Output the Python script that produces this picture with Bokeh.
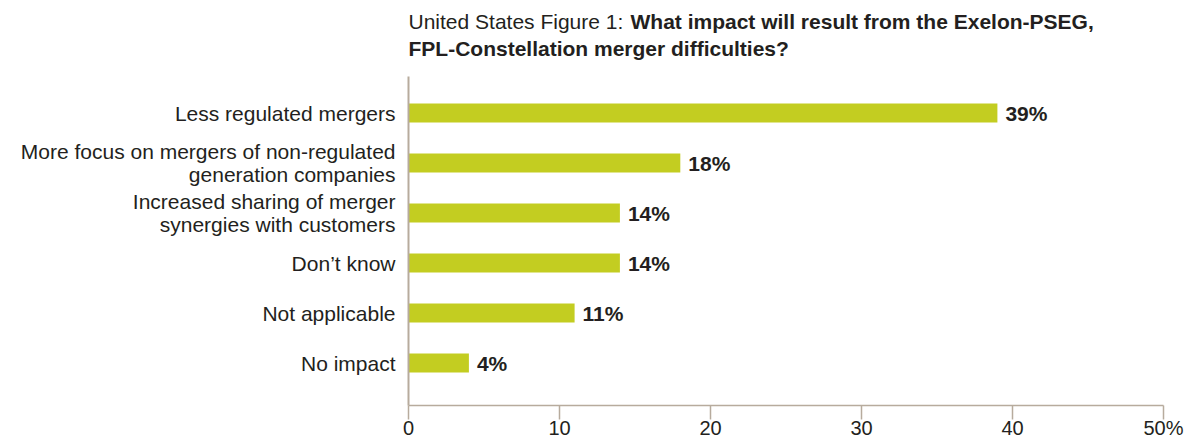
import numpy as np
from bokeh.plotting import figure
from bokeh.layouts import column
from bokeh.models import ColumnDataSource, FixedTicker, Range1d, Label
from bokeh.core.properties import value
from bokeh.embed import file_html
from bokeh.resources import INLINE

# ---- data ----
categories = [
    "Less regulated mergers",
    "More focus on mergers of non-regulated\ngeneration companies",
    "Increased sharing of merger\nsynergies with customers",
    "Don\u2019t know",
    "Not applicable",
    "No impact",
]
percent = [39, 18, 14, 14, 11, 4]
x_ticks = [0, 10, 20, 30, 40, 50]
x_tick_labels = ["0", "10", "20", "30", "40", "50%"]
title_regular = "United States Figure 1: "
title_bold_1 = "What impact will result from the Exelon-PSEG,"
title_bold_2 = "FPL-Constellation merger difficulties?"

# ---- style ----
FONT = "Liberation Sans"
BAR = "#c3cd21"
AXIS = "#b7ab9d"
TXT = "#231f20"
W = 1186
TITLE_H = 76
LEFT = 408
RIGHT = 23

# ---- title strip (mixed regular / bold text) ----
t = figure(width=W, height=TITLE_H, output_backend="svg", toolbar_location=None,
           x_range=Range1d(LEFT, W - RIGHT), y_range=Range1d(TITLE_H, 0),
           x_axis_location=None, y_axis_location=None, min_border=0)
t.min_border_left = LEFT
t.min_border_right = RIGHT
t.outline_line_color = None
t.xgrid.visible = False
t.ygrid.visible = False
for txt, x, y, style in [
    (title_regular, 408, 20.5, "normal"),
    (title_bold_1, 630, 20.5, "bold"),
    (title_bold_2, 408, 47.5, "bold"),
]:
    t.add_layout(Label(x=x, y=y, text=txt, text_font=FONT,
                       text_font_style=style, text_font_size="21px",
                       text_color=TXT, text_baseline="alphabetic",
                       text_align="left"))

# ---- main chart ----
n = len(categories)
ypos = list(np.arange(n)[::-1].astype(float))
src = ColumnDataSource(dict(
    y=ypos, v=percent, lab=[f"{v}%" for v in percent], cat=categories))

p = figure(width=W, height=441 - TITLE_H, output_backend="svg",
           toolbar_location=None,
           x_range=Range1d(0, 50), y_range=Range1d(-0.85, n - 1 + 0.73))
p.min_border_left = LEFT
p.min_border_right = RIGHT
p.min_border_top = 0
p.min_border_bottom = 36
p.outline_line_color = None
p.xgrid.visible = False
p.ygrid.visible = False

p.hbar(y="y", right="v", left=0, height=0.38, source=src,
       fill_color=BAR, line_color=None)
p.text(x="v", y="y", text="lab", source=src, x_offset=8,
       text_baseline="middle", text_align="left",
       text_font=value(FONT), text_font_style="bold",
       text_font_size="21px", text_color=TXT)

# x axis
xa = p.xaxis[0]
xa.ticker = FixedTicker(ticks=x_ticks)
xa.major_label_overrides = {tk: lb for tk, lb in zip(x_ticks, x_tick_labels)}
xa.minor_tick_line_color = None
xa.major_tick_in = 0
xa.major_tick_out = 14
xa.major_tick_line_color = AXIS
xa.major_tick_line_width = 1.5
xa.axis_line_color = AXIS
xa.axis_line_width = 1.5
xa.major_label_standoff = -3
xa.major_label_text_font = FONT
xa.major_label_text_font_size = "20px"
xa.major_label_text_color = TXT

# y axis
ya = p.yaxis[0]
ya.ticker = FixedTicker(ticks=ypos)
ya.major_label_overrides = {y: c for y, c in zip(ypos, categories)}
ya.minor_tick_line_color = None
ya.major_tick_line_color = None
ya.major_tick_in = 0
ya.major_tick_out = 0
ya.axis_line_color = AXIS
ya.axis_line_width = 2
ya.major_label_standoff = 13
ya.major_label_text_font = FONT
ya.major_label_text_font_size = "21px"
ya.major_label_text_color = TXT
ya.major_label_text_line_height = 1.0

layout = column(t, p, spacing=0)
open("out.html", "w").write(file_html(layout, INLINE))
